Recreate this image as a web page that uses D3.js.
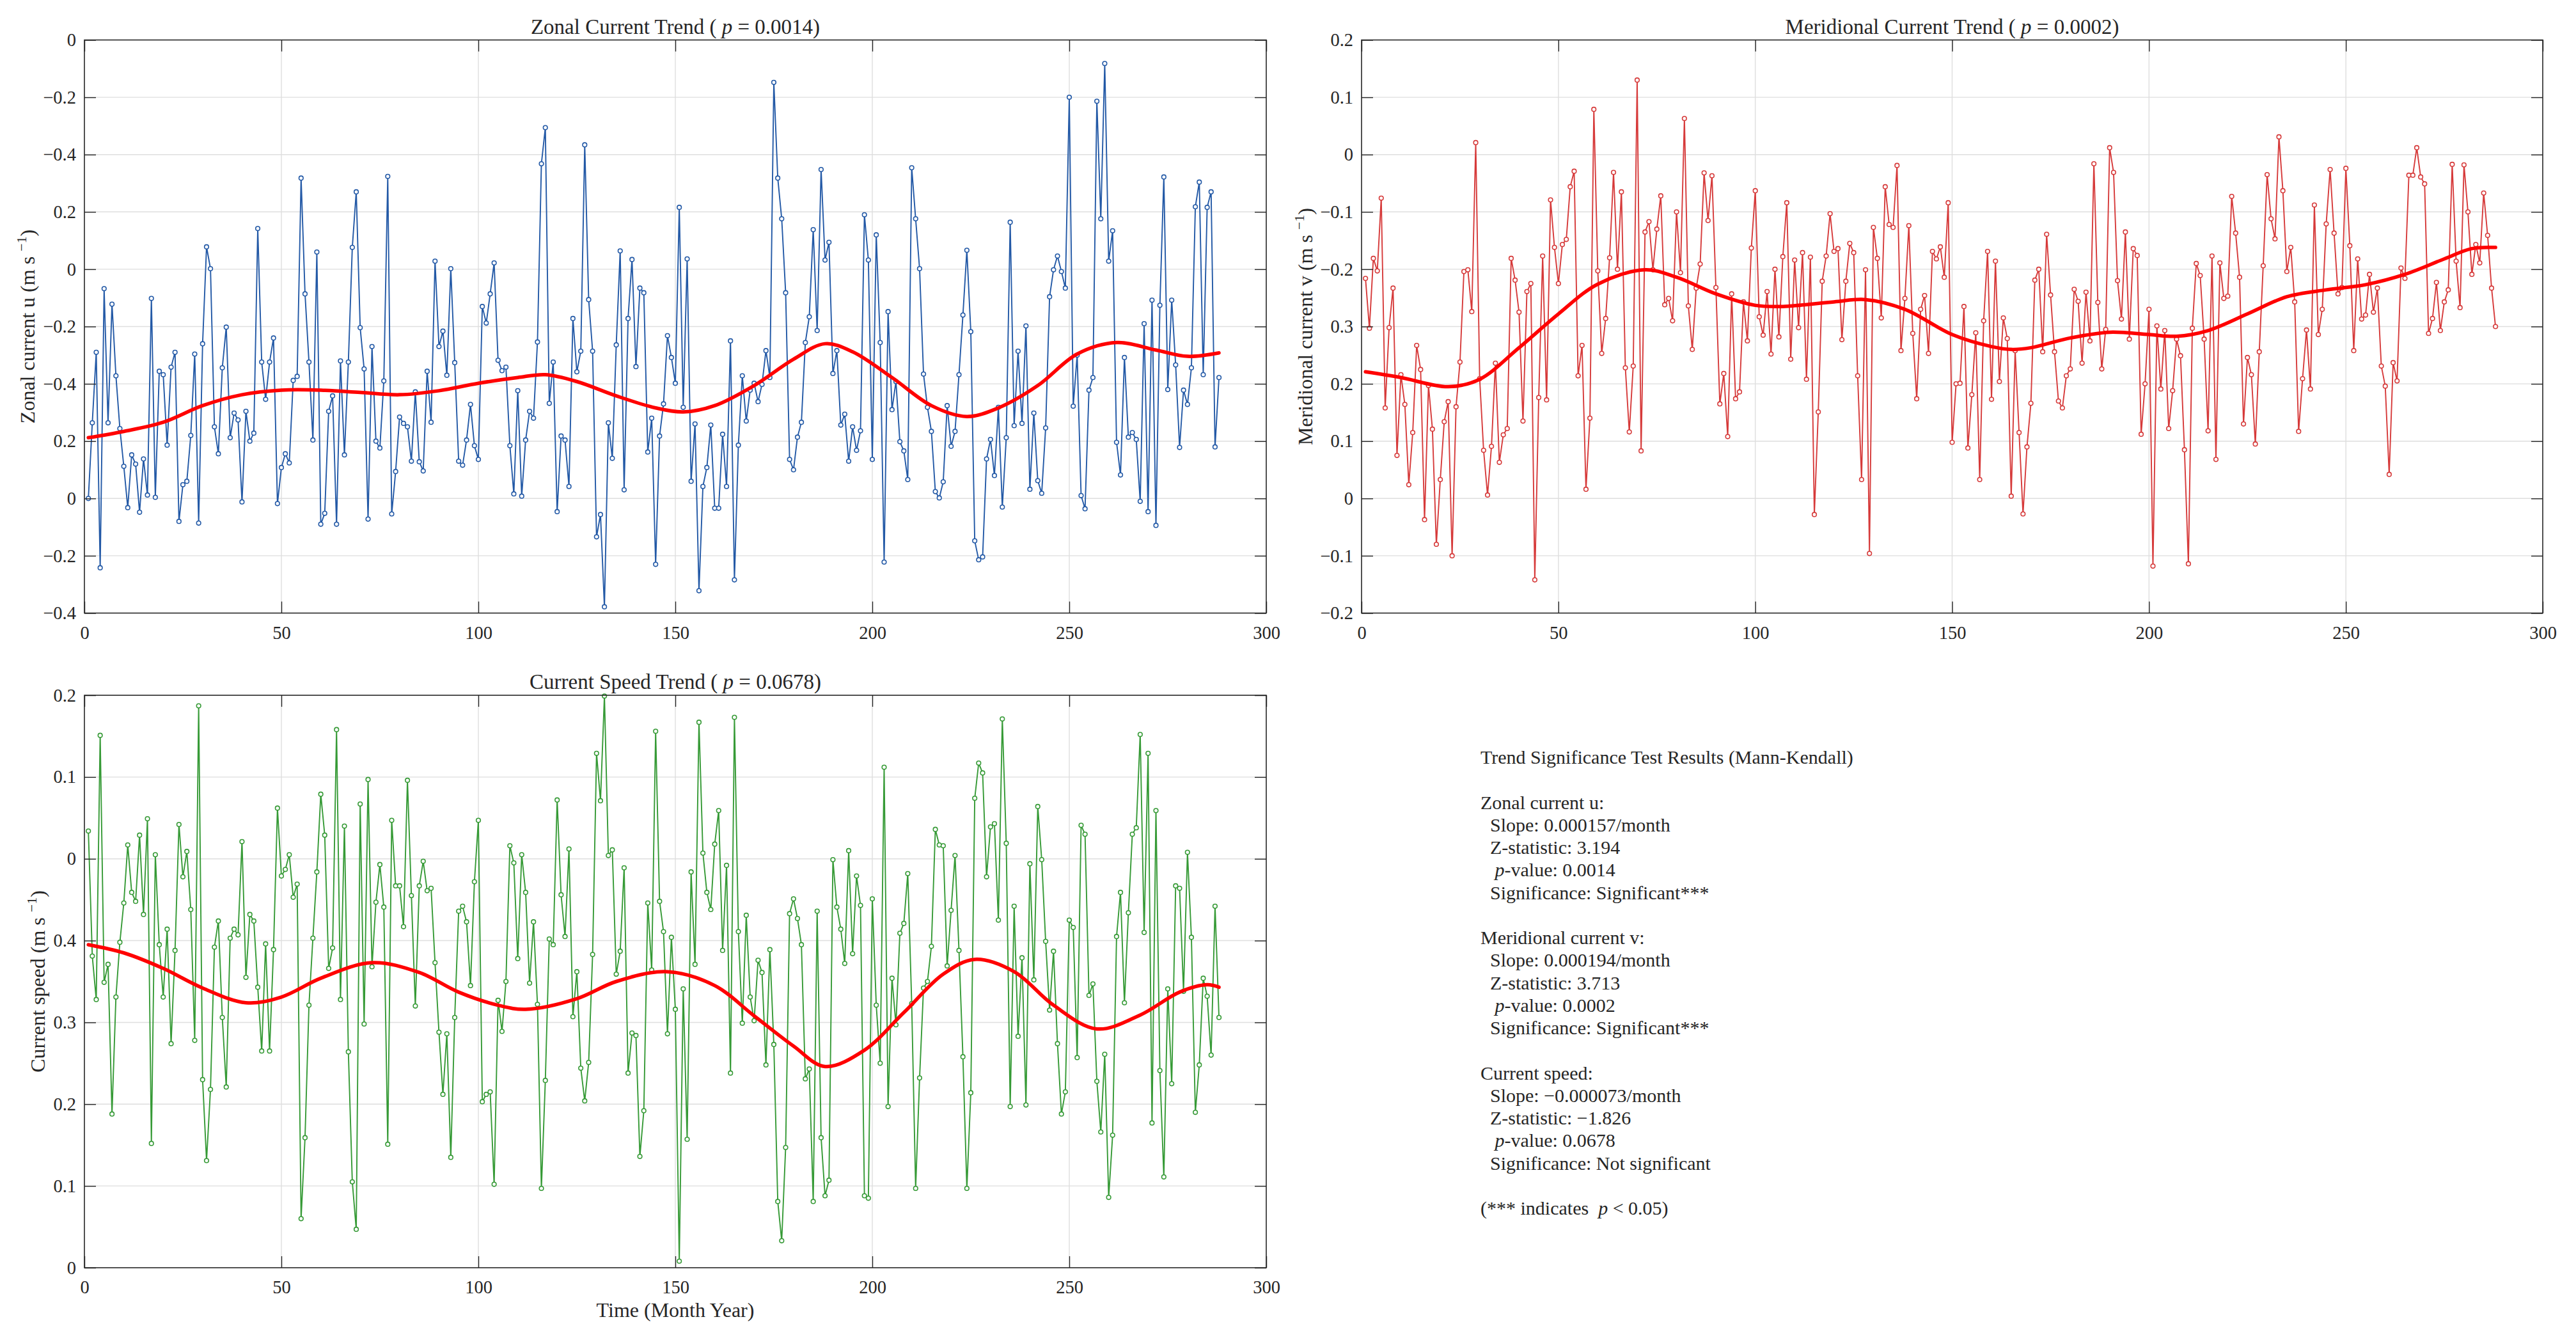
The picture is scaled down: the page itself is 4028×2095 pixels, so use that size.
<!DOCTYPE html>
<html>
<head>
<meta charset="utf-8">
<script src="https://cdn.jsdelivr.net/npm/d3@7"></script>
<style>
  html, body { margin: 0; padding: 0; background: #fff; }
  svg text { font-family: "Liberation Serif", "Times New Roman", serif; fill: #262626; white-space: pre; }
</style>
</head>
<body>
<svg id="chart" width="4028" height="2095"></svg>
<script>
// ---- Data (y values are read in grid steps from the bottom of each panel) ----
const months = d3.range(1, 289);
const xTicks = [0, 50, 100, 150, 200, 250, 300];

const zonalTickLabels = ["−0.4", "−0.2", "0", "0.2", "−0.4", "−0.2", "0", "0.2", "−0.4", "−0.2", "0"];
const meridTickLabels = ["−0.2", "−0.1", "0", "0.1", "0.2", "0.3", "−0.2", "−0.1", "0", "0.1", "0.2"];
const speedTickLabels = ["0", "0.1", "0.2", "0.3", "0.4", "0", "0.1", "0.2"];

const zonalU = [
  2.00, 3.32, 4.55, 0.79, 5.66, 3.32, 5.39, 4.14, 3.22, 2.56,
  1.84, 2.76, 2.60, 1.76, 2.69, 2.06, 5.49, 2.02, 4.22, 4.16,
  2.93, 4.29, 4.55, 1.60, 2.24, 2.30, 3.10, 4.52, 1.57, 4.70,
  6.39, 6.01, 3.25, 2.78, 4.28, 4.99, 3.06, 3.49, 3.37, 1.94,
  3.52, 3.00, 3.14, 6.71, 4.38, 3.73, 4.38, 4.80, 1.91, 2.54,
  2.78, 2.62, 4.06, 4.13, 7.59, 5.57, 4.38, 3.02, 6.30, 1.55,
  1.74, 3.52, 3.79, 1.55, 4.40, 2.76, 4.38, 6.38, 7.35, 4.98,
  4.26, 1.64, 4.65, 3.00, 2.88, 4.05, 7.62, 1.73, 2.47, 3.42,
  3.31, 3.25, 2.65, 3.86, 2.64, 2.48, 4.22, 3.33, 6.14, 4.65,
  4.92, 4.15, 6.01, 4.37, 2.65, 2.58, 3.02, 3.64, 2.92, 2.68,
  5.35, 5.06, 5.57, 6.11, 4.41, 4.23, 4.29, 2.92, 2.08, 3.88,
  2.04, 3.02, 3.52, 3.40, 4.73, 7.84, 8.47, 3.66, 4.38, 1.77,
  3.09, 3.02, 2.21, 5.14, 4.21, 4.57, 8.17, 5.47, 4.57, 1.33,
  1.72, 0.11, 3.32, 2.70, 4.68, 6.32, 2.15, 5.14, 6.17, 4.30,
  5.67, 5.59, 2.81, 3.40, 0.85, 3.09, 3.65, 4.84, 4.46, 4.01,
  7.08, 3.59, 6.18, 2.30, 3.30, 0.39, 2.21, 2.54, 3.28, 1.83,
  1.83, 3.12, 2.21, 4.75, 0.58, 2.93, 4.14, 3.35, 3.89, 4.01,
  3.69, 3.99, 4.58, 4.11, 9.26, 7.59, 6.88, 5.59, 2.68, 2.50,
  3.07, 3.33, 4.72, 5.17, 6.69, 4.93, 7.74, 6.16, 6.47, 4.18,
  4.58, 3.28, 3.47, 2.65, 3.25, 2.84, 3.18, 6.95, 6.16, 2.68,
  6.60, 4.72, 0.89, 5.26, 3.55, 4.04, 2.99, 2.83, 2.33, 7.77,
  6.88, 6.01, 4.17, 3.59, 3.17, 2.12, 2.01, 2.29, 3.62, 2.91,
  3.17, 4.16, 5.20, 6.33, 4.91, 1.26, 0.93, 0.98, 2.69, 3.03,
  2.40, 3.59, 1.85, 3.06, 6.82, 3.27, 4.57, 3.31, 5.01, 2.16,
  3.49, 2.31, 2.09, 3.23, 5.52, 5.99, 6.23, 5.96, 5.67, 9.00,
  3.61, 4.50, 2.05, 1.82, 3.89, 4.11, 8.93, 6.88, 9.59, 6.14,
  6.67, 2.98, 2.41, 4.46, 3.07, 3.15, 3.03, 1.95, 5.05, 1.77,
  5.46, 1.53, 5.37, 7.61, 3.90, 5.46, 4.33, 2.89, 3.89, 3.64,
  4.28, 7.09, 7.52, 4.16, 7.08, 7.35, 2.90, 4.11
];

const meridionalV = [
  5.84, 4.97, 6.19, 5.97, 7.24, 3.58, 4.98, 5.67, 2.75, 4.16,
  3.64, 2.24, 3.15, 4.67, 4.25, 1.63, 3.97, 3.21, 1.20, 2.33,
  3.34, 3.69, 1.00, 3.60, 4.38, 5.96, 5.99, 5.26, 8.21, 4.09,
  2.84, 2.06, 2.91, 4.36, 2.63, 3.11, 3.22, 6.19, 5.81, 5.25,
  3.35, 5.61, 5.75, 0.58, 3.76, 6.23, 3.72, 7.21, 6.38, 5.75,
  6.43, 6.52, 7.44, 7.71, 4.14, 4.67, 2.16, 3.40, 8.79, 5.97,
  4.53, 5.14, 6.20, 7.69, 6.00, 7.35, 4.28, 3.16, 4.31, 9.30,
  2.83, 6.65, 6.83, 5.99, 6.70, 7.28, 5.38, 5.49, 5.10, 7.00,
  5.94, 8.63, 5.36, 4.60, 5.67, 6.09, 7.68, 6.85, 7.63, 5.68,
  3.65, 4.18, 3.08, 5.57, 3.74, 3.86, 5.43, 4.75, 6.37, 7.37,
  5.17, 4.85, 5.61, 4.52, 6.00, 4.82, 6.22, 7.16, 4.43, 6.16,
  4.98, 6.29, 4.08, 6.21, 1.72, 3.51, 5.79, 6.23, 6.97, 6.31,
  6.36, 4.77, 5.79, 6.45, 6.29, 4.14, 2.33, 5.99, 1.04, 6.73,
  6.19, 5.15, 7.44, 6.78, 6.73, 7.81, 4.58, 5.49, 6.76, 4.88,
  3.74, 5.30, 5.54, 4.53, 6.31, 6.18, 6.39, 5.86, 7.16, 2.98,
  4.00, 4.01, 5.35, 2.88, 3.81, 4.89, 2.33, 5.10, 6.31, 3.73,
  6.14, 4.04, 5.15, 4.79, 2.04, 4.58, 3.15, 1.73, 2.90, 3.66,
  5.81, 6.00, 4.56, 6.61, 5.55, 4.56, 3.70, 3.58, 4.14, 4.26,
  5.65, 5.44, 4.36, 5.60, 4.75, 7.84, 5.42, 4.26, 4.95, 8.12,
  7.69, 5.80, 5.13, 6.65, 4.78, 6.36, 6.24, 3.12, 4.00, 5.30,
  0.82, 5.01, 3.91, 4.93, 3.22, 3.88, 4.78, 4.49, 2.85, 0.86,
  4.97, 6.10, 5.89, 4.78, 3.18, 6.23, 2.68, 6.11, 5.49, 5.53,
  7.27, 6.63, 5.86, 3.30, 4.46, 4.16, 2.95, 4.56, 6.06, 7.65,
  6.88, 6.53, 8.31, 7.37, 5.96, 6.38, 5.43, 3.17, 4.09, 4.94,
  3.91, 7.12, 4.86, 5.30, 6.79, 7.74, 6.63, 5.57, 5.68, 7.76,
  6.41, 4.58, 6.18, 5.13, 5.20, 5.91, 5.25, 5.67, 4.31, 3.96,
  2.42, 4.37, 4.05, 6.02, 5.84, 7.64, 7.64, 8.12, 7.61, 7.49,
  4.88, 5.14, 5.77, 4.93, 5.43, 5.64, 7.83, 6.14, 5.33, 7.82,
  7.00, 5.91, 6.43, 6.11, 7.33, 6.59, 5.67, 5.00
];

const currentSpeed = [
  5.34, 3.81, 3.28, 6.51, 3.49, 3.71, 1.88, 3.31, 3.98, 4.46,
  5.17, 4.59, 4.48, 5.29, 4.32, 5.49, 1.52, 5.05, 3.95, 3.31,
  4.14, 2.74, 3.88, 5.42, 4.78, 5.09, 4.38, 2.78, 6.87, 2.30,
  1.31, 2.18, 3.92, 4.24, 3.06, 2.21, 4.03, 4.14, 4.07, 5.21,
  3.55, 4.32, 4.24, 3.43, 2.65, 3.96, 2.65, 3.89, 5.62, 4.79,
  4.87, 5.05, 4.53, 4.69, 0.60, 1.59, 3.21, 4.03, 4.84, 5.79,
  5.29, 3.66, 3.91, 6.58, 3.28, 5.40, 2.64, 1.05, 0.47, 5.67,
  2.98, 5.97, 3.68, 4.47, 4.93, 4.41, 1.51, 5.47, 4.67, 4.67,
  4.17, 5.96, 4.55, 3.20, 4.67, 4.97, 4.61, 4.64, 3.73, 2.88,
  2.12, 2.86, 1.35, 3.06, 4.36, 4.42, 4.23, 3.45, 4.72, 5.47,
  2.03, 2.12, 2.15, 1.02, 3.27, 2.89, 3.50, 5.16, 4.95, 3.78,
  5.05, 4.59, 3.48, 4.23, 3.22, 0.97, 2.29, 4.02, 3.95, 5.72,
  4.56, 4.05, 5.12, 3.07, 3.62, 2.44, 2.04, 2.51, 3.83, 6.29,
  5.71, 6.99, 5.04, 5.11, 3.59, 3.87, 4.89, 2.38, 2.87, 2.84,
  1.36, 1.92, 4.46, 3.64, 6.56, 4.48, 4.11, 2.86, 4.04, 3.16,
  0.08, 3.41, 1.57, 4.84, 3.71, 6.67, 5.07, 4.59, 4.38, 5.18,
  5.59, 3.88, 4.92, 2.38, 6.73, 4.11, 2.99, 4.31, 3.31, 3.02,
  3.76, 3.61, 2.48, 3.89, 2.73, 0.81, 0.33, 1.47, 4.33, 4.51,
  4.27, 3.95, 2.31, 2.43, 0.81, 4.36, 1.59, 0.88, 1.07, 4.99,
  4.41, 4.14, 3.72, 5.10, 3.84, 4.79, 4.43, 0.88, 0.85, 4.51,
  3.21, 2.50, 6.12, 1.97, 3.54, 2.97, 4.09, 4.21, 4.82, 3.23,
  0.97, 2.32, 3.42, 3.50, 3.93, 5.36, 5.17, 5.16, 3.69, 4.37,
  5.04, 3.88, 2.58, 0.97, 2.14, 5.74, 6.17, 6.05, 4.78, 5.39,
  5.43, 4.25, 6.71, 5.19, 1.97, 4.42, 2.83, 3.79, 1.99, 4.94,
  3.52, 5.64, 4.99, 3.99, 3.15, 3.87, 2.74, 1.88, 2.15, 4.25,
  4.16, 2.57, 5.41, 5.30, 3.33, 3.47, 2.28, 1.66, 2.61, 0.86,
  1.62, 4.05, 4.59, 3.24, 4.34, 5.30, 5.38, 6.52, 4.10, 6.29,
  1.77, 5.59, 2.41, 1.11, 3.41, 2.25, 4.67, 4.64, 3.38, 5.08,
  4.04, 1.90, 2.48, 3.54, 3.32, 2.60, 4.42, 3.06
];

// smooth trend curves: [month, value] knots
const zonalTrend = [[1,3.06],[10,3.17],[20,3.33],[30,3.62],[40,3.81],[50,3.89],[60,3.89],[70,3.85],
  [80,3.81],[90,3.88],[100,4.01],[110,4.11],[117,4.16],[125,4.04],[135,3.79],[145,3.58],[152,3.51],
  [160,3.62],[170,3.97],[180,4.43],[188,4.70],[195,4.56],[205,4.11],[215,3.62],[224,3.43],[232,3.58],
  [242,3.97],[252,4.52],[262,4.72],[272,4.59],[280,4.48],[288,4.54]];
const meridTrend = [[1,4.21],[10,4.11],[22,3.95],[30,4.08],[40,4.63],[50,5.22],[60,5.74],[72,5.99],
  [80,5.86],[90,5.57],[100,5.37],[107,5.35],[120,5.43],[128,5.47],[138,5.30],[150,4.86],[160,4.65],
  [165,4.60],[170,4.63],[180,4.80],[190,4.90],[200,4.86],[207,4.83],[215,4.93],[225,5.22],[235,5.52],
  [245,5.64],[255,5.73],[265,5.91],[275,6.18],[282,6.36],[288,6.38]];
const speedTrend = [[1,3.95],[10,3.85],[20,3.66],[30,3.42],[41,3.24],[50,3.31],[60,3.54],[73,3.73],
  [85,3.61],[95,3.37],[105,3.21],[112,3.16],[125,3.29],[135,3.50],[148,3.62],[160,3.45],[170,3.08],
  [180,2.71],[188,2.46],[198,2.66],[208,3.12],[218,3.59],[226,3.77],[236,3.62],[246,3.21],[257,2.92],
  [268,3.09],[278,3.37],[285,3.46],[288,3.43]];

const statsLines = [
  "Trend Significance Test Results (Mann-Kendall)",
  "",
  "Zonal current u:",
  "  Slope: 0.000157/month",
  "  Z-statistic: 3.194",
  "   {p}-value: 0.0014",
  "  Significance: Significant***",
  "",
  "Meridional current v:",
  "  Slope: 0.000194/month",
  "  Z-statistic: 3.713",
  "   {p}-value: 0.0002",
  "  Significance: Significant***",
  "",
  "Current speed:",
  "  Slope: −0.000073/month",
  "  Z-statistic: −1.826",
  "   {p}-value: 0.0678",
  "  Significance: Not significant",
  "",
  "(*** indicates  {p} < 0.05)"
];

// ---- Style ----
const INK = "#262626";
const GRID = "#dedede";
const TREND = "#ff0000";

const svg = d3.select("#chart");
svg.append("rect").attr("width", 4028).attr("height", 2095).attr("fill", "#fff");

// writes "text {p} text" with an italic p
function richText(sel, str) {
  const parts = str.split("{p}");
  parts.forEach((part, i) => {
    if (i > 0) sel.append("tspan").attr("font-style", "italic").text("p");
    if (part) sel.append("tspan").text(part);
  });
}

function styleAxis(g) {
  g.attr("font-family", null).attr("font-size", 28.5).attr("color", INK);
  g.select(".domain").remove();
  g.selectAll(".tick line").attr("stroke-width", 1.4);
}

function drawPanel(p) {
  const x = d3.scaleLinear().domain([0, 300]).range([p.left, p.right]);
  const y = d3.scaleLinear().domain([0, p.yLabels.length - 1]).range([p.bottom, p.top]);
  const yTicks = d3.range(p.yLabels.length);
  const g = svg.append("g");

  // grid
  g.append("g").selectAll("line").data(xTicks.slice(1, -1)).join("line")
    .attr("x1", d => x(d)).attr("x2", d => x(d))
    .attr("y1", p.top).attr("y2", p.bottom)
    .attr("stroke", GRID).attr("stroke-width", 1.4);
  g.append("g").selectAll("line").data(yTicks.slice(1, -1)).join("line")
    .attr("x1", p.left).attr("x2", p.right)
    .attr("y1", d => y(d)).attr("y2", d => y(d))
    .attr("stroke", GRID).attr("stroke-width", 1.4);

  // series
  const pts = months.map((m, i) => [m, p.values[i]]);
  g.append("path")
    .attr("d", d3.line().x(d => x(d[0])).y(d => y(d[1]))(pts))
    .attr("fill", "none").attr("stroke", p.color).attr("stroke-width", 1.9)
    .attr("stroke-linejoin", "round");
  g.append("g").selectAll("circle").data(pts).join("circle")
    .attr("cx", d => x(d[0])).attr("cy", d => y(d[1])).attr("r", 3.3)
    .attr("fill", "#fff").attr("stroke", p.color).attr("stroke-width", 1.6);

  // trend
  g.append("path")
    .attr("d", d3.line().x(d => x(d[0])).y(d => y(d[1])).curve(d3.curveCatmullRom.alpha(0.5))(p.trend))
    .attr("fill", "none").attr("stroke", TREND).attr("stroke-width", 5.5)
    .attr("stroke-linecap", "round").attr("stroke-linejoin", "round");

  // axes (ticks point inwards, mirrored on top/right)
  g.append("g").attr("transform", `translate(0,${p.bottom})`)
    .call(d3.axisBottom(x).tickValues(xTicks).tickSize(-18).tickSizeOuter(0).tickPadding(20))
    .call(styleAxis);
  g.append("g").attr("transform", `translate(0,${p.top})`)
    .call(d3.axisTop(x).tickValues(xTicks).tickSize(-18).tickSizeOuter(0).tickFormat(""))
    .call(styleAxis);
  g.append("g").attr("transform", `translate(${p.left},0)`)
    .call(d3.axisLeft(y).tickValues(yTicks).tickSize(-18).tickSizeOuter(0).tickPadding(13)
      .tickFormat(i => p.yLabels[i]))
    .call(styleAxis);
  g.append("g").attr("transform", `translate(${p.right},0)`)
    .call(d3.axisRight(y).tickValues(yTicks).tickSize(-18).tickSizeOuter(0).tickFormat(""))
    .call(styleAxis);

  g.append("rect")
    .attr("x", p.left).attr("y", p.top)
    .attr("width", p.right - p.left).attr("height", p.bottom - p.top)
    .attr("fill", "none").attr("stroke", INK).attr("stroke-width", 1.6);

  // title
  const t = g.append("text")
    .attr("x", (p.left + p.right) / 2).attr("y", p.top - 10)
    .attr("text-anchor", "middle").attr("font-size", 33);
  richText(t, p.title);

  // y label with superscript
  const yl = g.append("text")
    .attr("transform", `translate(${p.yLabelX},${(p.top + p.bottom) / 2}) rotate(-90)`)
    .attr("text-anchor", "middle").attr("font-size", 32);
  yl.append("tspan").text(p.yLabel + " (m s ");
  yl.append("tspan").attr("font-size", 22).attr("dy", -13).text("−1");
  yl.append("tspan").attr("dy", 13).text(")");

  if (p.xLabel) {
    g.append("text")
      .attr("x", (p.left + p.right) / 2).attr("y", p.xLabelY)
      .attr("text-anchor", "middle").attr("font-size", 32)
      .text(p.xLabel);
  }
}

drawPanel({
  left: 132, right: 1980, top: 62.5, bottom: 958.5,
  values: zonalU, trend: zonalTrend, color: "#2359a6",
  yLabels: zonalTickLabels, yLabel: "Zonal current u", yLabelX: 54,
  title: "Zonal Current Trend ( {p} = 0.0014)"
});

drawPanel({
  left: 2129, right: 3976, top: 62.5, bottom: 958.5,
  values: meridionalV, trend: meridTrend, color: "#d63a3a",
  yLabels: meridTickLabels, yLabel: "Meridional current v", yLabelX: 2052,
  title: "Meridional Current Trend ( {p} = 0.0002)"
});

drawPanel({
  left: 132, right: 1980, top: 1087, bottom: 1982,
  values: currentSpeed, trend: speedTrend, color: "#369a36",
  yLabels: speedTickLabels, yLabel: "Current speed", yLabelX: 70,
  title: "Current Speed Trend ( {p} = 0.0678)",
  xLabel: "Time (Month Year)", xLabelY: 2059
});

// results text block
const block = svg.append("g").attr("font-size", 30);
statsLines.forEach((line, i) => {
  const t = block.append("text").attr("x", 2315).attr("y", 1194 + i * 35.25);
  richText(t, line);
});
</script>
</body>
</html>
